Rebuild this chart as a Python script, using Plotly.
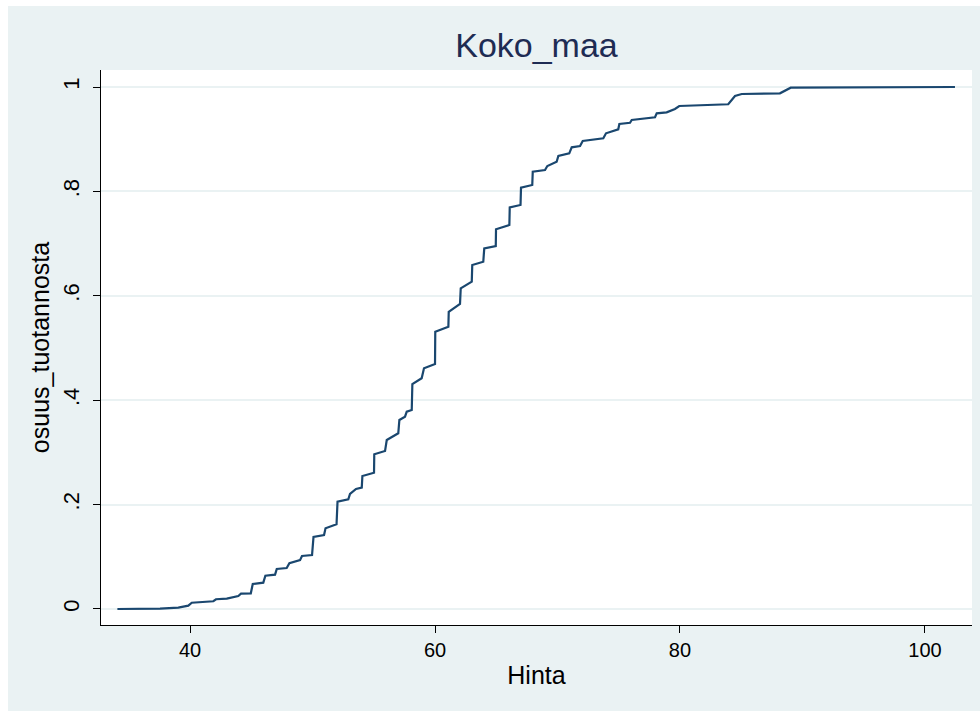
import plotly.graph_objects as go

# Cumulative share of production by price (Hinta)
hinta = [34.07, 37.55, 39.04, 39.86, 40.14, 41.90, 42.12, 43.00, 43.94, 44.16,
         44.96, 45.12, 45.98, 46.15, 46.94, 47.08, 47.89, 48.11, 48.98, 49.14,
         49.96, 50.08, 50.94, 51.06, 51.96, 52.04, 52.92, 53.06, 53.55, 54.02,
         54.07, 55.02, 55.04, 55.92, 56.06, 57.00, 57.09, 57.55, 57.69, 58.10,
         58.15, 58.91, 59.10, 60.00, 60.02, 61.09, 61.12, 62.04, 62.10, 63.00,
         63.04, 63.94, 64.02, 64.96, 64.98, 66.07, 66.10, 66.98, 67.02, 67.94,
         67.98, 68.98, 69.17, 69.93, 70.07, 70.96, 71.16, 71.84, 72.06, 73.74,
         73.96, 74.96, 75.05, 75.92, 76.06, 77.96, 78.10, 78.91, 79.59, 79.94,
         83.94, 84.49, 85.04, 86.53, 88.16, 89.04, 94.97, 102.45]
osuus = [0.0, 0.0005, 0.0025, 0.0063, 0.012, 0.0148, 0.0186, 0.0197, 0.0249, 0.0293,
         0.030, 0.0479, 0.0504, 0.0638, 0.0657, 0.0766, 0.0785, 0.0875, 0.0935, 0.1015,
         0.1034, 0.138, 0.1418, 0.1546, 0.1623, 0.2056, 0.2102, 0.2203, 0.2299, 0.2324,
         0.2548, 0.2611, 0.2964, 0.3027, 0.3238, 0.3366, 0.3621, 0.3684, 0.378, 0.3812,
         0.431, 0.442, 0.461, 0.4693, 0.531, 0.5408, 0.5695, 0.5843, 0.6144, 0.627,
         0.659, 0.6653, 0.691, 0.6954, 0.7274, 0.7356, 0.7695, 0.774, 0.8071, 0.8123,
         0.8377, 0.841, 0.8487, 0.8569, 0.8678, 0.873, 0.8845, 0.887, 0.8966, 0.9017,
         0.9113, 0.919, 0.9291, 0.9316, 0.9368, 0.942, 0.9496, 0.9515, 0.9579, 0.9636,
         0.9669, 0.9828, 0.9866, 0.9866, 0.9879, 0.9987, 0.9995, 1.0]

x_ticks = [40, 60, 80, 100]
y_ticks = [0, 0.2, 0.4, 0.6, 0.8, 1]
y_tick_labels = ["0", ".2", ".4", ".6", ".8", "1"]

BG = "#EAF2F3"
LINE = "#1A476F"
FONT = "Liberation Sans, Arial, sans-serif"

fig = go.Figure()
fig.add_trace(go.Scatter(
    x=hinta, y=osuus, mode="lines",
    line=dict(color=LINE, width=2.2),
    showlegend=False,
))

W, H = 980, 715
L, R, T, B = 101, 8, 70, 90
pw, ph = W - L - R, H - T - B

# light outer background band, leaving a thin white border at top/left/bottom
fig.add_shape(
    type="rect", xref="paper", yref="paper", layer="below",
    x0=(8 - L) / pw, x1=(W - L) / pw,
    y0=(H - B - 711) / ph, y1=(H - B - 6) / ph,
    fillcolor=BG, line=dict(width=0),
)
# white plotting region on top of the band
fig.add_shape(
    type="rect", xref="paper", yref="paper", layer="below",
    x0=0, x1=1, y0=0, y1=1,
    fillcolor="white", line=dict(width=0),
)

fig.update_layout(
    width=W, height=H,
    margin=dict(l=L, r=R, t=T, b=B),
    paper_bgcolor="white",
    plot_bgcolor="white",
    font=dict(family=FONT, color="black"),
    title=dict(
        text="Koko_maa", x=0.5, xref="paper", xanchor="center",
        y=1 - 45 / H, yanchor="middle",
        font=dict(family=FONT, size=34, color="#1E2C53"),
    ),
    xaxis=dict(
        range=[32.73, 103.84],
        tickmode="array", tickvals=x_ticks,
        ticks="outside", ticklen=7, tickwidth=1, tickcolor="black",
        tickfont=dict(size=20, color="black"),
        showline=True, linecolor="black", linewidth=1,
        showgrid=False, zeroline=False,
        title=dict(text="Hinta", font=dict(size=25, color="black"), standoff=6),
    ),
    yaxis=dict(
        range=[-0.0307, 1.0326],
        tickmode="array", tickvals=y_ticks, ticktext=y_tick_labels,
        tickangle=-90,
        ticks="outside", ticklen=7, tickwidth=1, tickcolor="black",
        tickfont=dict(size=22, color="black"),
        ticklabelstandoff=5,
        showline=True, linecolor="black", linewidth=1,
        showgrid=True, gridcolor=BG, gridwidth=2,
        zeroline=False,
        title=dict(text="osuus_tuotannosta", font=dict(size=25, color="black"), standoff=2),
    ),
)

fig.write_html("out.html")
